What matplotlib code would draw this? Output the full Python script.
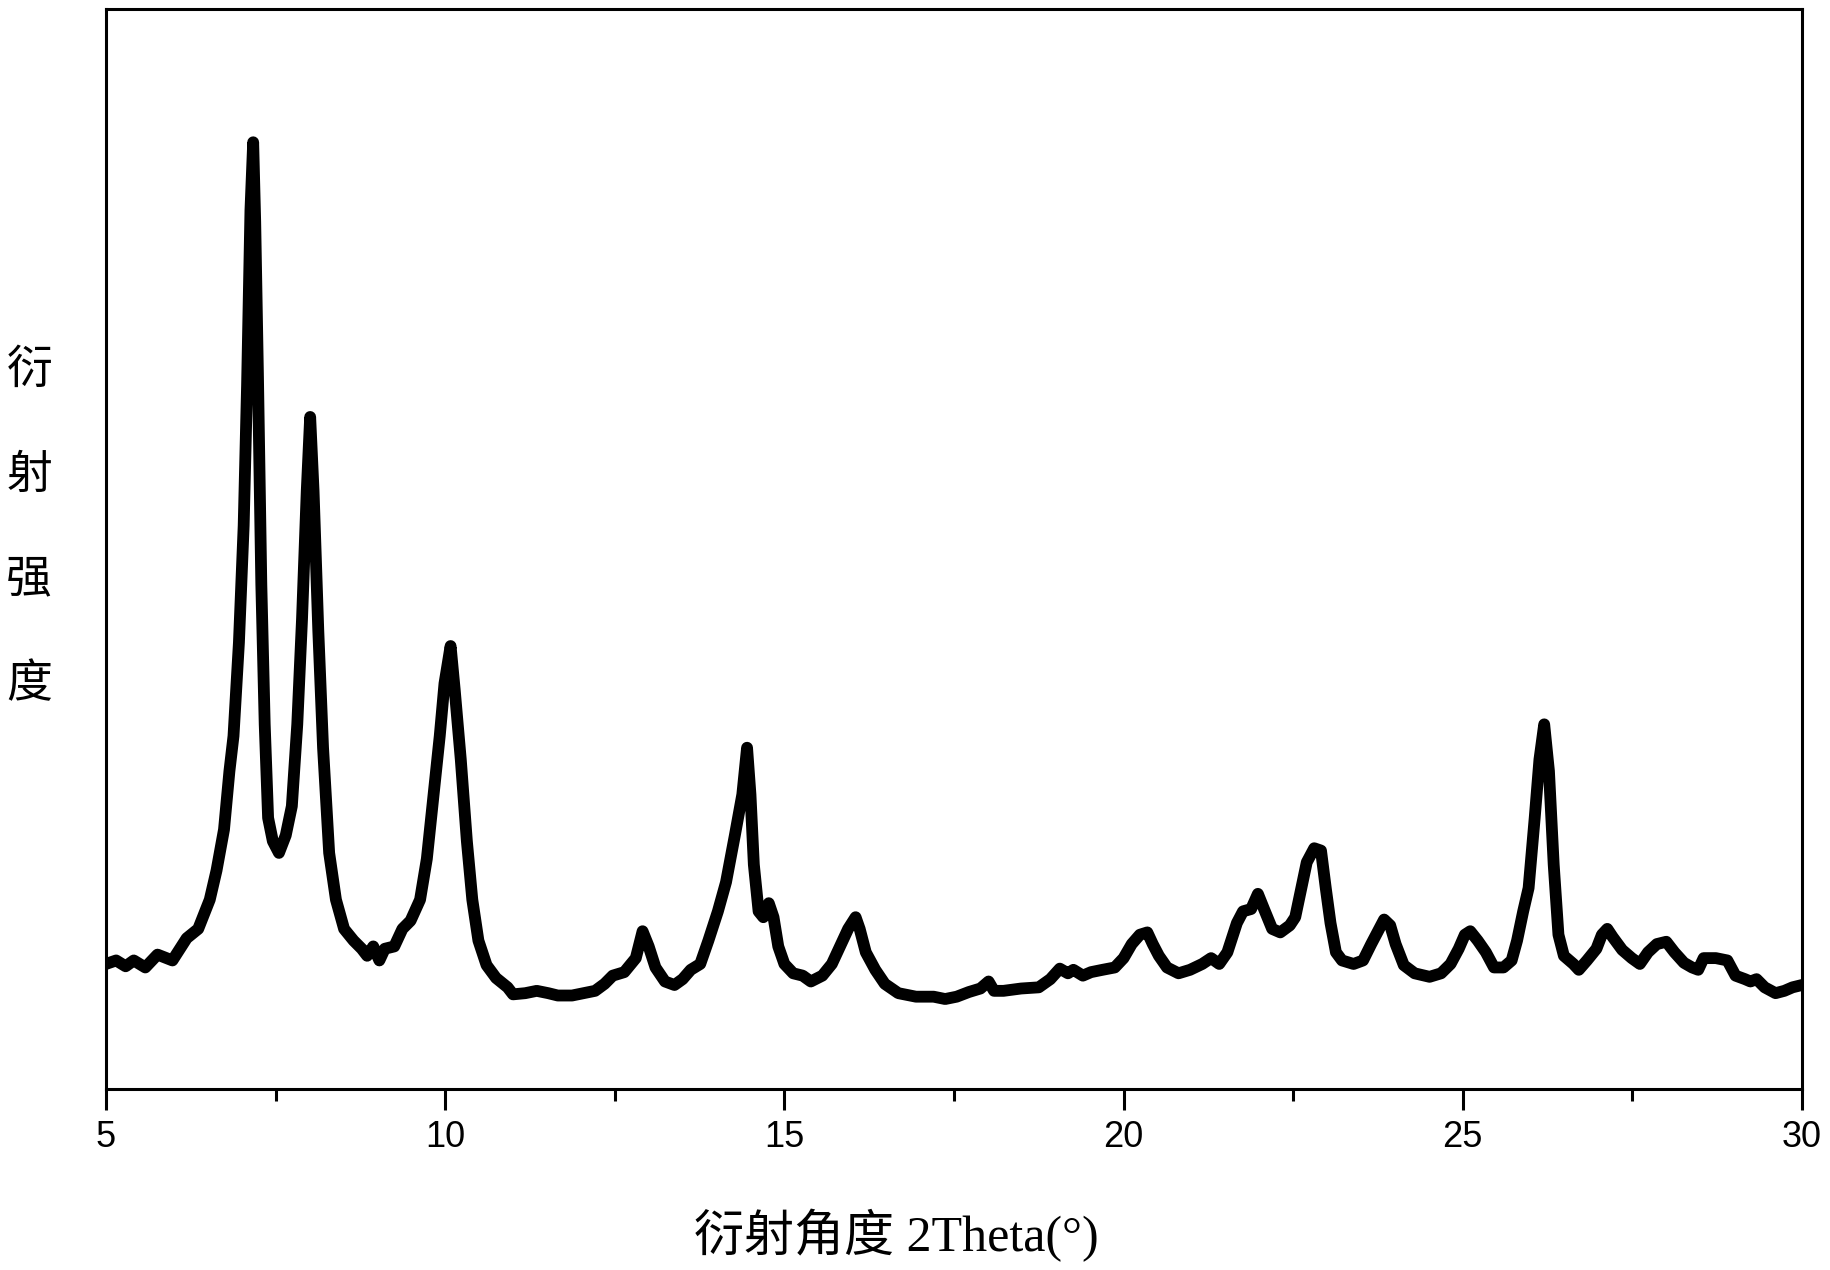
import numpy as np
import matplotlib
matplotlib.use("Agg")
import matplotlib.pyplot as plt
from matplotlib.ticker import MultipleLocator

# XRD pattern (2theta in degrees, intensity in a.u.)
two_theta = [
    5.00, 5.15, 5.29, 5.41, 5.58, 5.76, 5.98, 6.19, 6.36, 6.53, 6.63, 6.74, 6.82, 6.88, 6.96,
    7.03, 7.08, 7.13, 7.17, 7.20, 7.24, 7.29, 7.34, 7.39, 7.46, 7.55, 7.65, 7.74, 7.82, 7.89,
    7.96, 8.01, 8.06, 8.13, 8.20, 8.29, 8.39, 8.51, 8.65, 8.77, 8.85, 8.94, 9.03, 9.11, 9.25,
    9.37, 9.49, 9.63, 9.73, 9.83, 9.92, 9.99, 10.08, 10.14, 10.23, 10.32, 10.40, 10.49, 10.61,
    10.75, 10.92, 11.00, 11.18, 11.35, 11.52, 11.66, 11.87, 12.04, 12.21, 12.35, 12.47, 12.64,
    12.81, 12.91, 13.00, 13.10, 13.24, 13.38, 13.50, 13.62, 13.76, 13.88, 14.02, 14.14, 14.27,
    14.38, 14.45, 14.50, 14.55, 14.62, 14.69, 14.77, 14.84, 14.91, 15.00, 15.13, 15.27, 15.39,
    15.56, 15.70, 15.82, 15.94, 16.05, 16.11, 16.20, 16.34, 16.48, 16.68, 16.94, 17.20, 17.37,
    17.54, 17.72, 17.89, 18.01, 18.09, 18.23, 18.49, 18.75, 18.92, 19.06, 19.18, 19.26, 19.40,
    19.52, 19.69, 19.87, 20.00, 20.12, 20.24, 20.35, 20.43, 20.52, 20.64, 20.81, 20.98, 21.16,
    21.29, 21.41, 21.53, 21.67, 21.76, 21.88, 21.98, 22.07, 22.19, 22.31, 22.45, 22.53, 22.62,
    22.70, 22.81, 22.91, 22.98, 23.05, 23.13, 23.22, 23.39, 23.53, 23.65, 23.74, 23.84, 23.93,
    24.01, 24.13, 24.29, 24.51, 24.68, 24.82, 24.94, 25.03, 25.11, 25.22, 25.34, 25.46, 25.60,
    25.72, 25.80, 25.89, 25.97, 26.06, 26.13, 26.20, 26.27, 26.34, 26.41, 26.49, 26.63, 26.71,
    26.83, 26.97, 27.05, 27.13, 27.21, 27.35, 27.49, 27.61, 27.73, 27.86, 28.00, 28.12, 28.26,
    28.38, 28.47, 28.55, 28.73, 28.90, 29.02, 29.16, 29.24, 29.33, 29.45, 29.61, 29.74, 29.86,
    30.00,
]
intensity = [
    107, 110, 105, 110, 104, 115, 110, 129, 137, 162, 187, 222, 272, 302, 382,
    482, 602, 752, 810, 742, 612, 432, 312, 232, 212, 202, 217, 242, 312, 402,
    512, 575, 512, 392, 292, 202, 162, 137, 127, 120, 114, 122, 110, 120, 122,
    137, 144, 162, 197, 252, 302, 347, 379, 342, 282, 212, 162, 127, 106,
    95, 87, 81, 82, 84, 82, 80, 80, 82, 84, 90, 97, 100,
    112, 135, 122, 104, 92, 89, 94, 102, 107, 127, 152, 177, 217,
    252, 292, 252, 192, 152, 147, 159, 147, 122, 107, 99, 97, 92,
    97, 107, 122, 137, 147, 137, 117, 102, 90, 82, 79, 79, 77,
    79, 83, 86, 92, 84, 84, 86, 87, 94, 103, 99, 102, 97,
    100, 102, 104, 112, 124, 132, 134, 124, 114, 104, 99, 102, 107,
    112, 107, 117, 142, 152, 154, 167, 154, 137, 134, 140, 147, 172,
    194, 206, 204, 172, 142, 117, 110, 107, 110, 124, 134, 145, 140,
    124, 106, 99, 96, 99, 107, 120, 132, 135, 127, 117, 104, 104,
    110, 127, 152, 172, 232, 282, 312, 272, 192, 132, 114, 107, 102,
    110, 120, 132, 137, 130, 119, 112, 107, 117, 124, 126, 117, 108,
    104, 102, 112, 112, 110, 97, 94, 92, 94, 87, 82, 84, 87,
    89,
]

x_ticks = [5, 10, 15, 20, 25, 30]
x_label = "衍射角度 2Theta(°)"
y_label = "衍\n射\n强\n度"

fig = plt.figure(figsize=(18.3, 12.7), dpi=100)
ax = fig.add_axes([0.0579, 0.1425, 0.9268, 0.8504])

ax.plot(two_theta, intensity, color="black", linewidth=8.5,
        solid_joinstyle="round", solid_capstyle="round")

ax.set_xlim(5, 30)
ax.set_ylim(0, 924)

ax.set_xticks(x_ticks)
ax.xaxis.set_minor_locator(MultipleLocator(2.5))
ax.tick_params(axis="x", which="major", direction="out", length=15, width=2.2,
               labelsize=26, pad=7)
ax.tick_params(axis="x", which="minor", direction="out", length=8.5, width=2.2)
ax.set_yticks([])
for lbl in ax.get_xticklabels():
    lbl.set_family("Liberation Sans")

for side in ["left", "right", "bottom", "top"]:
    ax.spines[side].set_linewidth(2.2)

fig.text(0.4896, 0.015, x_label, ha="center", va="baseline", fontsize=36,
         family=["Liberation Serif", "Noto Sans CJK SC"])
fig.text(0.016, 0.585, y_label, ha="center", va="center", fontsize=33,
         family=["Noto Sans CJK SC"], linespacing=2.5)

fig.savefig("out.png", dpi=100, facecolor="white")
